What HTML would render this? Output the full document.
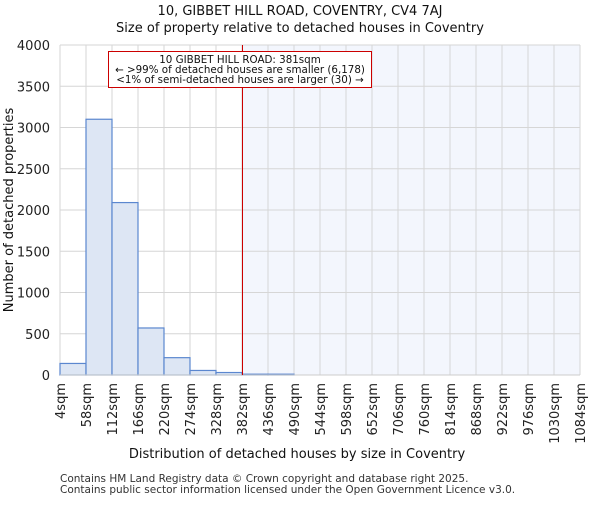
<!DOCTYPE html>
<html><head><meta charset="utf-8"><style>body{margin:0;background:#fff}svg{font-family:"DejaVu Sans","Liberation Sans",sans-serif}</style></head>
<body>
<svg width="600" height="500" id="c"></svg>
<script>
const categories=["4sqm","58sqm","112sqm","166sqm","220sqm","274sqm","328sqm","382sqm","436sqm","490sqm","544sqm","598sqm","652sqm","706sqm","760sqm","814sqm","868sqm","922sqm","976sqm","1030sqm","1084sqm"];
const values=[140,3100,2090,570,210,55,30,10,10,0,0,0,0,0,0,0,0,0,0,0];
const yTicks=[0,500,1000,1500,2000,2500,3000,3500,4000];
const binStart=4, binWidth=54, marker=381;
const X0=60,X1=580,Y0=375,Y1=45,yMax=4000;
const xs=v=>X0+(v-binStart)/(binWidth*values.length)*(X1-X0);
const ys=v=>Y0-v/yMax*(Y0-Y1);
const svg=document.getElementById('c');const NS='http://www.w3.org/2000/svg';
function mk(t,a,txt){const e=document.createElementNS(NS,t);for(const k in a)e.setAttribute(k,a[k]);if(txt!==undefined)e.textContent=txt;svg.appendChild(e);return e;}
let e;
e=mk('rect',{x:xs(marker),y:Y1,width:X1-xs(marker),height:Y0-Y1,fill:'#f3f6fd'});

yTicks.forEach(t=>{e=mk('line',{x1:X0,x2:X1,y1:ys(t),y2:ys(t),stroke:'#d6d6d6'});
e=mk('text',{x:X0-10,y:ys(t)+5,'text-anchor':'end','font-size':13,fill:'#222'},t);});
categories.forEach((c,i)=>{const x=xs(binStart+i*binWidth);e=mk('line',{x1:x,x2:x,y1:Y1,y2:Y0,stroke:'#d6d6d6'});
e=mk('text',{transform:`translate(${x+5},${Y0+8}) rotate(-90)`,'text-anchor':'end','font-size':13,fill:'#222'},c);});
values.forEach((v,i)=>{const x=xs(binStart+i*binWidth),w=xs(binStart+(i+1)*binWidth)-x;e=mk('rect',{x:x,y:ys(v),width:w,height:Y0-ys(v),fill:'#dde6f4',stroke:'#5b87cf','stroke-width':1.2});});
e=mk('line',{x1:X0,x2:X1,y1:Y0,y2:Y0,stroke:'#ccc'});
const mx=Math.round(xs(marker))+0.5;
e=mk('line',{x1:mx,x2:mx,y1:Y1,y2:Y0,stroke:'#cc0000','stroke-width':1});
e=mk('rect',{x:108.5,y:51.5,width:263,height:36,fill:'#fff',stroke:'#cc0000'});
[["10 GIBBET HILL ROAD: 381sqm",63],["← >99% of detached houses are smaller (6,178)",73],["<1% of semi-detached houses are larger (30) →",83]].forEach(([t,y])=>{e=mk('text',{x:240,y:y,'text-anchor':'middle','font-size':10.3,fill:'#111'},t);});
e=mk('text',{x:300,y:15,'text-anchor':'middle','font-size':13,fill:'#111'},'10, GIBBET HILL ROAD, COVENTRY, CV4 7AJ');
e=mk('text',{x:300,y:32,'text-anchor':'middle','font-size':13,fill:'#111'},'Size of property relative to detached houses in Coventry');
e=mk('text',{x:297,y:458,'text-anchor':'middle','font-size':13,fill:'#111'},'Distribution of detached houses by size in Coventry');
e=mk('text',{transform:'translate(13,210) rotate(-90)','text-anchor':'middle','font-size':13,fill:'#111'},'Number of detached properties');
e=mk('text',{x:60,y:482,'font-size':10.5,fill:'#333'},'Contains HM Land Registry data © Crown copyright and database right 2025.');
e=mk('text',{x:60,y:493,'font-size':10.5,fill:'#333'},'Contains public sector information licensed under the Open Government Licence v3.0.');
</script>
</body></html>
